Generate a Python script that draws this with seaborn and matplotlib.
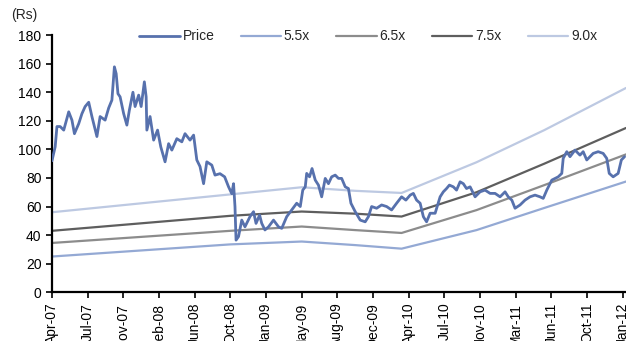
import pandas as pd
import matplotlib
matplotlib.use("Agg")
import matplotlib.pyplot as plt
import seaborn as sns
import numpy as np

# ==========================
# DATOS
# ==========================
# eje x = indice de sesion bursatil (75 sesiones entre etiquetas)
tick_labels = ["Apr-07", "Jul-07", "Nov-07", "Feb-08", "Jun-08", "Oct-08", "Jan-09",
               "May-09", "Aug-09", "Dec-09", "Apr-10", "Jul-10", "Nov-10", "Mar-11",
               "Jun-11", "Oct-11", "Jan-12"]
sesiones_por_tick = 75

price_pos = [0.00, 0.09, 0.14, 0.23, 0.33, 0.47, 0.56, 0.63, 0.75, 0.84, 0.93, 1.03, 1.12,
             1.26, 1.35, 1.49, 1.59, 1.68, 1.75, 1.80, 1.85, 1.91, 2.01, 2.10, 2.17, 2.27,
             2.33, 2.43, 2.50, 2.59, 2.64, 2.66, 2.75, 2.85, 2.96, 3.05, 3.17, 3.27, 3.36,
             3.50, 3.64, 3.73, 3.87, 3.97, 4.06, 4.15, 4.25, 4.34, 4.48, 4.57, 4.71, 4.84,
             4.95, 5.04, 5.09, 5.13, 5.16, 5.23, 5.32, 5.41, 5.55, 5.65, 5.72, 5.82, 5.88,
             5.97, 6.07, 6.21, 6.35, 6.44, 6.58, 6.72, 6.86, 6.96, 7.03, 7.10, 7.14, 7.22,
             7.29, 7.38, 7.47, 7.56, 7.66, 7.75, 7.84, 7.94, 8.03, 8.12, 8.22, 8.31, 8.38,
             8.50, 8.64, 8.78, 8.87, 8.96, 9.10, 9.24, 9.38, 9.52, 9.66, 9.80, 9.92, 10.04,
             10.13, 10.22, 10.32, 10.41, 10.50, 10.60, 10.74, 10.88, 10.97, 11.06, 11.14,
             11.25, 11.34, 11.44, 11.53, 11.62, 11.72, 11.86, 12.00, 12.14, 12.28, 12.42,
             12.56, 12.70, 12.79, 12.89, 12.98, 13.12, 13.26, 13.40, 13.54, 13.68, 13.77,
             13.87, 14.01, 14.19, 14.29, 14.33, 14.43, 14.52, 14.66, 14.80, 14.89, 14.99,
             15.08, 15.17, 15.31, 15.45, 15.55, 15.62, 15.73, 15.87, 15.96, 16.05]
price = [92.0, 101.8, 116.0, 116.0, 113.5, 126.3, 120.5, 111.0, 118.0, 125.0, 130.0, 133.0,
         123.0, 109.0, 123.0, 120.5, 129.0, 134.5, 157.8, 153.0, 139.0, 136.8, 125.0, 117.0,
         127.5, 140.0, 130.0, 138.0, 130.0, 147.3, 136.8, 113.5, 123.0, 106.5, 113.5, 101.8,
         91.3, 104.0, 99.5, 107.5, 105.3, 111.0, 106.5, 110.0, 92.6, 88.0, 76.0, 91.3, 89.0,
         82.0, 83.0, 80.8, 73.8, 69.0, 76.0, 59.9, 36.5, 39.0, 50.5, 45.8, 52.9, 56.4, 48.2,
         54.0, 48.2, 43.6, 45.8, 50.5, 45.8, 44.7, 52.9, 57.6, 62.3, 60.0, 71.5, 73.8, 83.2,
         80.8, 86.6, 78.5, 75.0, 66.8, 79.7, 76.0, 80.8, 82.0, 79.7, 79.7, 73.8, 72.6, 62.3,
         56.4, 50.5, 49.3, 52.9, 60.0, 58.8, 61.1, 60.0, 57.6, 62.3, 66.8, 64.5, 68.0, 69.2,
         64.5, 62.3, 52.9, 49.3, 55.3, 55.3, 66.8, 70.3, 72.6, 75.0, 73.8, 71.5, 77.3, 76.0,
         72.6, 73.8, 66.8, 70.3, 71.5, 69.2, 69.2, 66.8, 70.3, 66.8, 64.5, 58.8, 61.1, 64.5,
         66.8, 68.0, 66.8, 65.7, 71.5, 78.5, 80.8, 83.2, 93.7, 98.4, 94.9, 99.5, 96.0, 98.4,
         92.6, 94.9, 97.2, 98.4, 97.2, 93.7, 83.2, 80.8, 83.2, 92.6, 94.9]

band_pos = [0.0, 5.0, 7.0, 8.5, 9.8, 11.9, 13.8, 16.09]
band_55 = [25.0, 33.5, 35.5, 33.0, 30.5, 43.5, 59.0, 77.5]
band_65 = [34.5, 43.0, 46.0, 43.5, 41.5, 57.5, 75.0, 96.5]
band_75 = [43.0, 53.5, 56.5, 55.0, 53.0, 70.0, 90.0, 115.0]
band_90 = [56.0, 68.5, 73.5, 71.0, 69.5, 91.0, 113.5, 143.0]

# ==========================
# GRAFICA
# ==========================
sns.set_style("ticks")
plt.rcParams["font.family"] = ["Liberation Sans", "DejaVu Sans"]

fig = plt.figure(figsize=(6.26, 3.41), dpi=100)
ax = fig.add_axes([0.083, 0.143, 0.917, 0.754])

x_price = np.array(price_pos) * sesiones_por_tick
x_band = np.array(band_pos) * sesiones_por_tick

bandas = [("5.5x", band_55, "#94A9D4"),
          ("6.5x", band_65, "#8C8C8C"),
          ("7.5x", band_75, "#5E5E5E"),
          ("9.0x", band_90, "#BDC9E2")]
for nombre, vals, col in bandas:
    sns.lineplot(x=x_band, y=vals, ax=ax, color=col, linewidth=1.6, label=nombre, zorder=2)

sns.lineplot(x=x_price, y=price, ax=ax, color="#5771AD", linewidth=2.0, label="Price", zorder=3)

ax.set_xlim(0, 16.09 * sesiones_por_tick)
ax.set_ylim(0, 180)
ax.set_yticks(range(0, 181, 20))
ax.set_xticks(np.arange(len(tick_labels)) * sesiones_por_tick)
ax.set_xticklabels(tick_labels, rotation=90)
ax.tick_params(axis="both", labelsize=10, length=4, width=1.2, color="black", labelcolor="black")
ax.set_xlabel("")
ax.set_ylabel("")

for lado in ["left", "bottom"]:
    ax.spines[lado].set_linewidth(1.6)
    ax.spines[lado].set_color("black")
sns.despine(ax=ax)

h, l = ax.get_legend_handles_labels()
orden = [4, 0, 1, 2, 3]
ax.legend([h[i] for i in orden], [l[i] for i in orden], ncol=5, frameon=False,
          loc="center", bbox_to_anchor=(0.551, 0.995), fontsize=10,
          handlelength=2.9, handletextpad=0.2, columnspacing=1.9)

fig.text(0.018, 0.955, "(Rs)", fontsize=10, ha="left", va="center")

fig.savefig("out.png", dpi=100)
